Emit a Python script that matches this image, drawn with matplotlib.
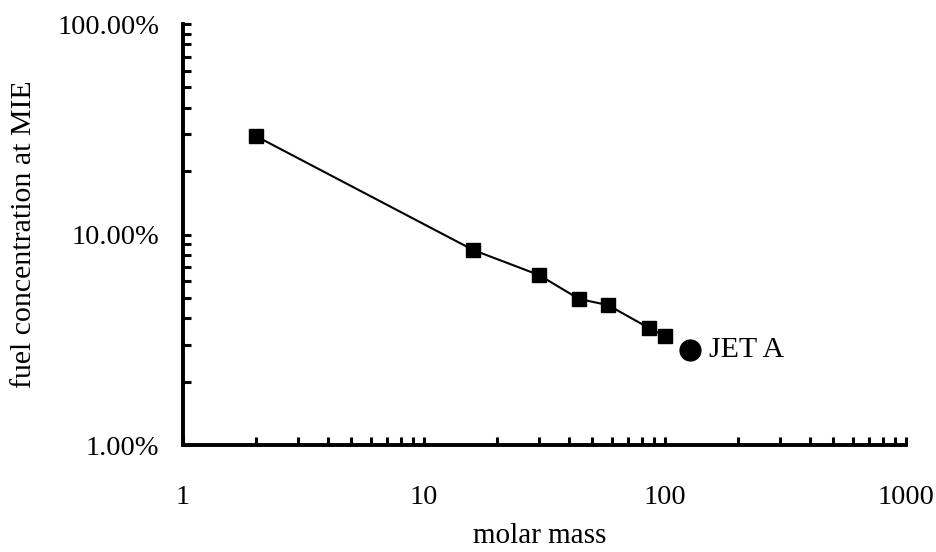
import numpy as np
import matplotlib.pyplot as plt
from matplotlib.ticker import LogLocator, NullFormatter

plt.rcParams['font.family'] = ['Liberation Serif', 'DejaVu Serif']

# molar mass vs fuel concentration at MIE (fraction)
molar_mass = [2, 16, 30, 44, 58, 86, 100]
concentration = [0.294, 0.0844, 0.0642, 0.0494, 0.0462, 0.0359, 0.0329]
jet_a_mass = [127]
jet_a_conc = [0.0283]

x_ticks = [1, 10, 100, 1000]
x_labels = ['1', '10', '100', '1000']
y_ticks = [0.01, 0.1, 1.0]
y_labels = ['1.00%', '10.00%', '100.00%']

fig = plt.figure(figsize=(9.36, 5.52), dpi=100)
ax = fig.add_axes([0.1955, 0.1938, 0.7725, 0.7627])

ax.plot(molar_mass, concentration, color='black', lw=1.5,
        marker='s', markersize=9.5, markerfacecolor='black')
ax.plot(jet_a_mass, jet_a_conc, 'o', color='black', markersize=15)
ax.annotate('JET A', (jet_a_mass[0], jet_a_conc[0]), xytext=(14, 0),
            textcoords='offset points', va='center', ha='left', fontsize=21.5)

ax.set_xscale('log')
ax.set_yscale('log')
ax.set_xlim(1, 1000)
ax.set_ylim(0.01, 1.0)

ax.set_xticks(x_ticks)
ax.set_xticklabels(x_labels)
ax.set_yticks(y_ticks)
ax.set_yticklabels(y_labels)
ax.xaxis.set_minor_locator(LogLocator(base=10, subs=np.arange(2, 10)))
ax.yaxis.set_minor_locator(LogLocator(base=10, subs=np.arange(2, 10)))
ax.xaxis.set_minor_formatter(NullFormatter())
ax.yaxis.set_minor_formatter(NullFormatter())

ax.tick_params(which='both', direction='in', length=6, width=2.2, labelsize=20.5)
ax.tick_params(axis='x', which='major', pad=29)
ax.tick_params(axis='y', which='major', pad=17)

for s in ['top', 'right']:
    ax.spines[s].set_visible(False)
for s in ['left', 'bottom']:
    ax.spines[s].set_linewidth(2.8)

ax.set_xlabel('molar mass', fontsize=21, va='center')
ax.xaxis.set_label_coords(0.494, -0.215)
ax.set_ylabel('fuel concentration at MIE', fontsize=21.5, va='center')
ax.yaxis.set_label_coords(-0.22, 0.5)

fig.savefig('out.png', dpi=100)
